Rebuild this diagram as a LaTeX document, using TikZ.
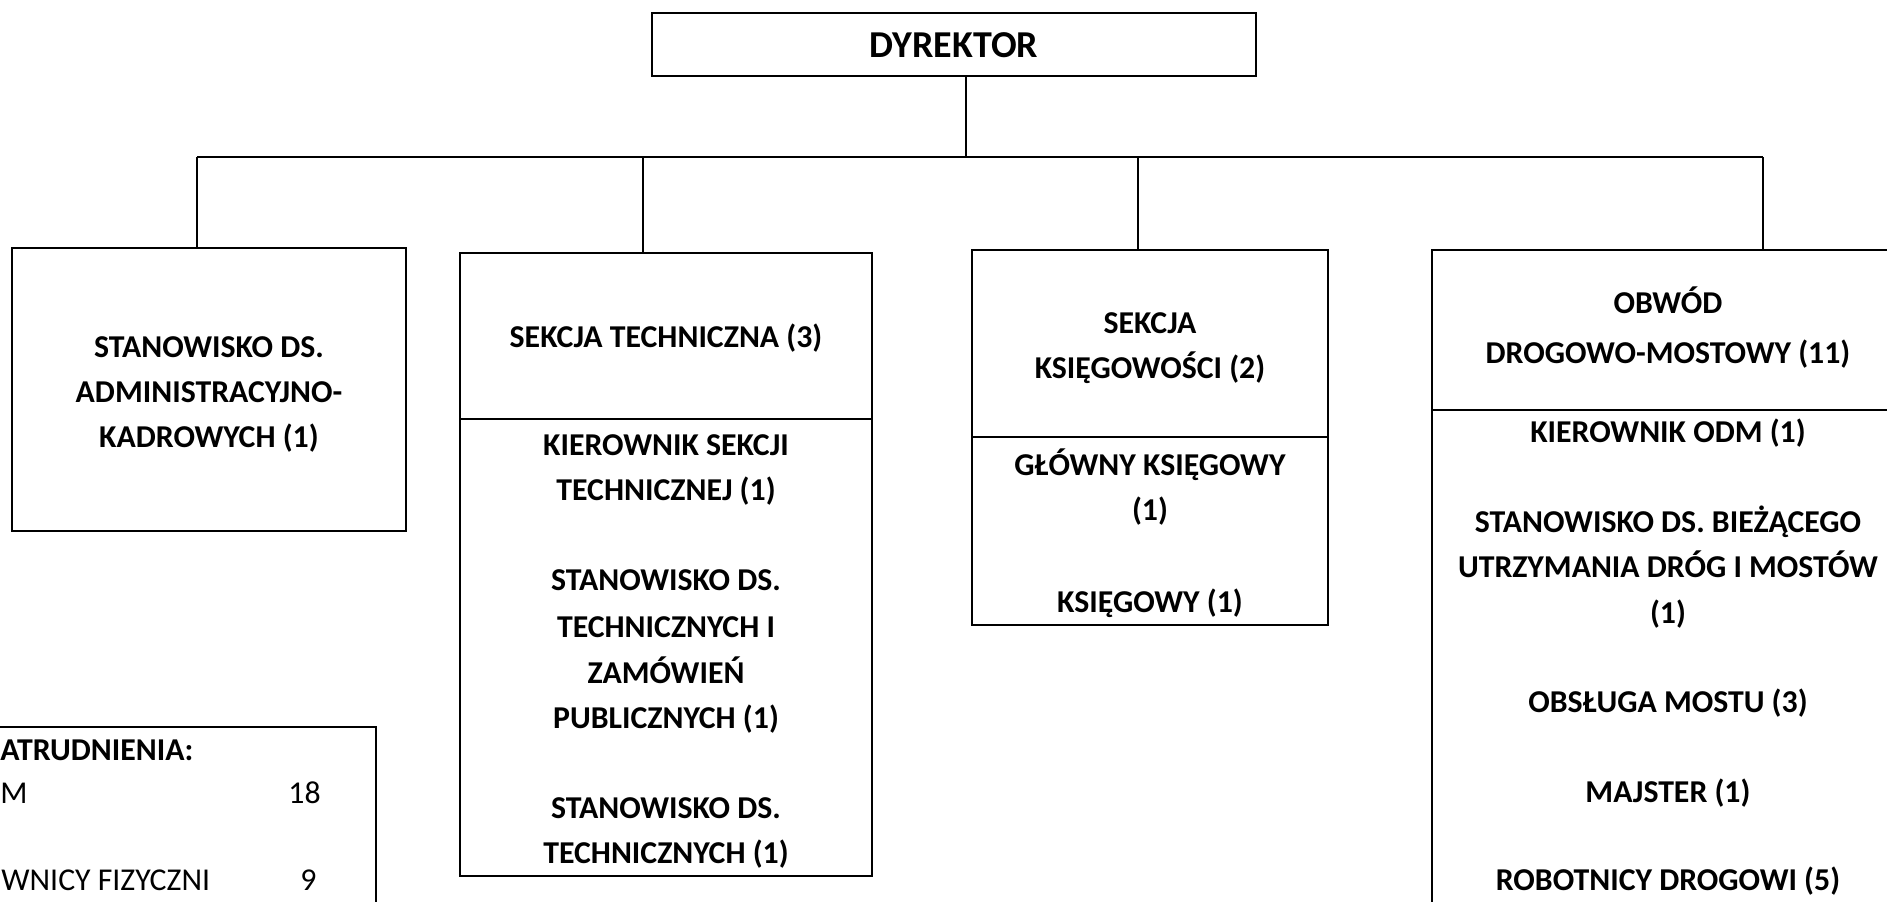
\documentclass[tikz,border=0pt]{standalone}
\usepackage{fontspec}
\setmainfont{Carlito}
\begin{document}
\begin{tikzpicture}[x=0.5pt,y=-0.5pt,
  box/.style={draw, line width=1pt, inner sep=0pt, outer sep=0pt},
  conn/.style={draw, line width=1pt},
  lbl/.style={font=\bfseries\fontsize{15.9}{22}\selectfont, anchor=base, inner sep=0pt},
  big/.style={font=\bfseries\fontsize{19}{24}\selectfont, anchor=base, inner sep=0pt},
  leg/.style={font=\fontsize{15.9}{22}\selectfont, anchor=base west, inner sep=0pt},
  legb/.style={font=\bfseries\fontsize{15.9}{22}\selectfont, anchor=base west, inner sep=0pt}]
\useasboundingbox (0,0) rectangle (1887,901);
% boxes
\node[box, minimum width=302pt, minimum height=31.65pt] (dyr) at (954,44.3) {};
\node[box, minimum width=197pt, minimum height=141.5pt] (b1) at (209,389.5) {};
\node[box, minimum width=206pt, minimum height=311.5pt] (b2) at (666,564.5) {};
\node[box, minimum width=178pt, minimum height=187.5pt] (b3) at (1150,437.5) {};
\node[box, minimum width=236pt, minimum height=340pt] (b4) at (1668,590) {};
\node[box, minimum width=238pt, minimum height=111.5pt] (leg) at (138,838.5) {};
% dividers
\coordinate (d2) at (0,419);
\coordinate (d3) at (0,437);
\coordinate (d4) at (0,410);
\draw[conn] (b2.west |- d2) -- (b2.east |- d2);
\draw[conn] (b3.west |- d3) -- (b3.east |- d3);
\draw[conn] (b4.west |- d4) -- (b4.east |- d4);
% connectors
\coordinate (dc) at (966,157);
\coordinate (busL) at (197,157);
\coordinate (busR) at (1763,157);
\coordinate (c2) at (643,157);
\coordinate (c3) at (1138,157);
\draw[conn] (dc |- dyr.south) -- (dc);
\draw[conn] (busL) -- (busR);
\draw[conn] (busL) -- (busL |- b1.north);
\draw[conn] (c2) -- (c2 |- b2.north);
\draw[conn] (c3) -- (c3 |- b3.north);
\draw[conn] (busR) -- (busR |- b4.north);
% texts
\node[big] (tdyr) at (954,57) {DYREKTOR};
\node[lbl] (t1a) at (209,357) {STANOWISKO DS.};
\node[lbl] (t1b) at (209,402) {ADMINISTRACYJNO-};
\node[lbl] (t1c) at (209,447) {KADROWYCH (1)};
\node[lbl] (t2t) at (666,347) {SEKCJA TECHNICZNA (3)};
\node[lbl] (t2a) at (666,455) {KIEROWNIK SEKCJI};
\node[lbl] (t2b) at (666,500) {TECHNICZNEJ (1)};
\node[lbl] (t2c) at (666,590) {STANOWISKO DS.};
\node[lbl] (t2d) at (666,637) {TECHNICZNYCH I};
\node[lbl] (t2e) at (666,683) {ZAMÓWIEŃ};
\node[lbl] (t2f) at (666,728) {PUBLICZNYCH (1)};
\node[lbl] (t2g) at (666,818) {STANOWISKO DS.};
\node[lbl] (t2h) at (666,863) {TECHNICZNYCH (1)};
\node[lbl] (t3t1) at (1150,333) {SEKCJA};
\node[lbl] (t3t2) at (1150,378) {KSIĘGOWOŚCI (2)};
\node[lbl] (t3a) at (1150,475) {GŁÓWNY KSIĘGOWY};
\node[lbl] (t3b) at (1150,520) {(1)};
\node[lbl] (t3c) at (1150,612) {KSIĘGOWY (1)};
\node[lbl] (t4t1) at (1668,313) {OBWÓD};
\node[lbl] (t4t2) at (1668,363) {DROGOWO-MOSTOWY (11)};
\node[lbl] (t4a) at (1668,442) {KIEROWNIK ODM (1)};
\node[lbl] (t4b) at (1668,532) {STANOWISKO DS. BIEŻĄCEGO};
\node[lbl] (t4c) at (1668,577) {UTRZYMANIA DRÓG I MOSTÓW};
\node[lbl] (t4d) at (1668,623) {(1)};
\node[lbl] (t4e) at (1668,712) {OBSŁUGA MOSTU (3)};
\node[lbl] (t4f) at (1668,802) {MAJSTER (1)};
\node[lbl] (t4g) at (1668,890) {ROBOTNICY DROGOWI (5)};
% legend
\node[legb] (l1) at (0,760) {ATRUDNIENIA:};
\node[leg] (l2) at (0,803) {M};
\node[leg] (l2n) at (288,803) {18};
\node[leg] (l3) at (1,890) {WNICY FIZYCZNI};
\node[leg] (l3n) at (300,890) {9};
\end{tikzpicture}
\end{document}
